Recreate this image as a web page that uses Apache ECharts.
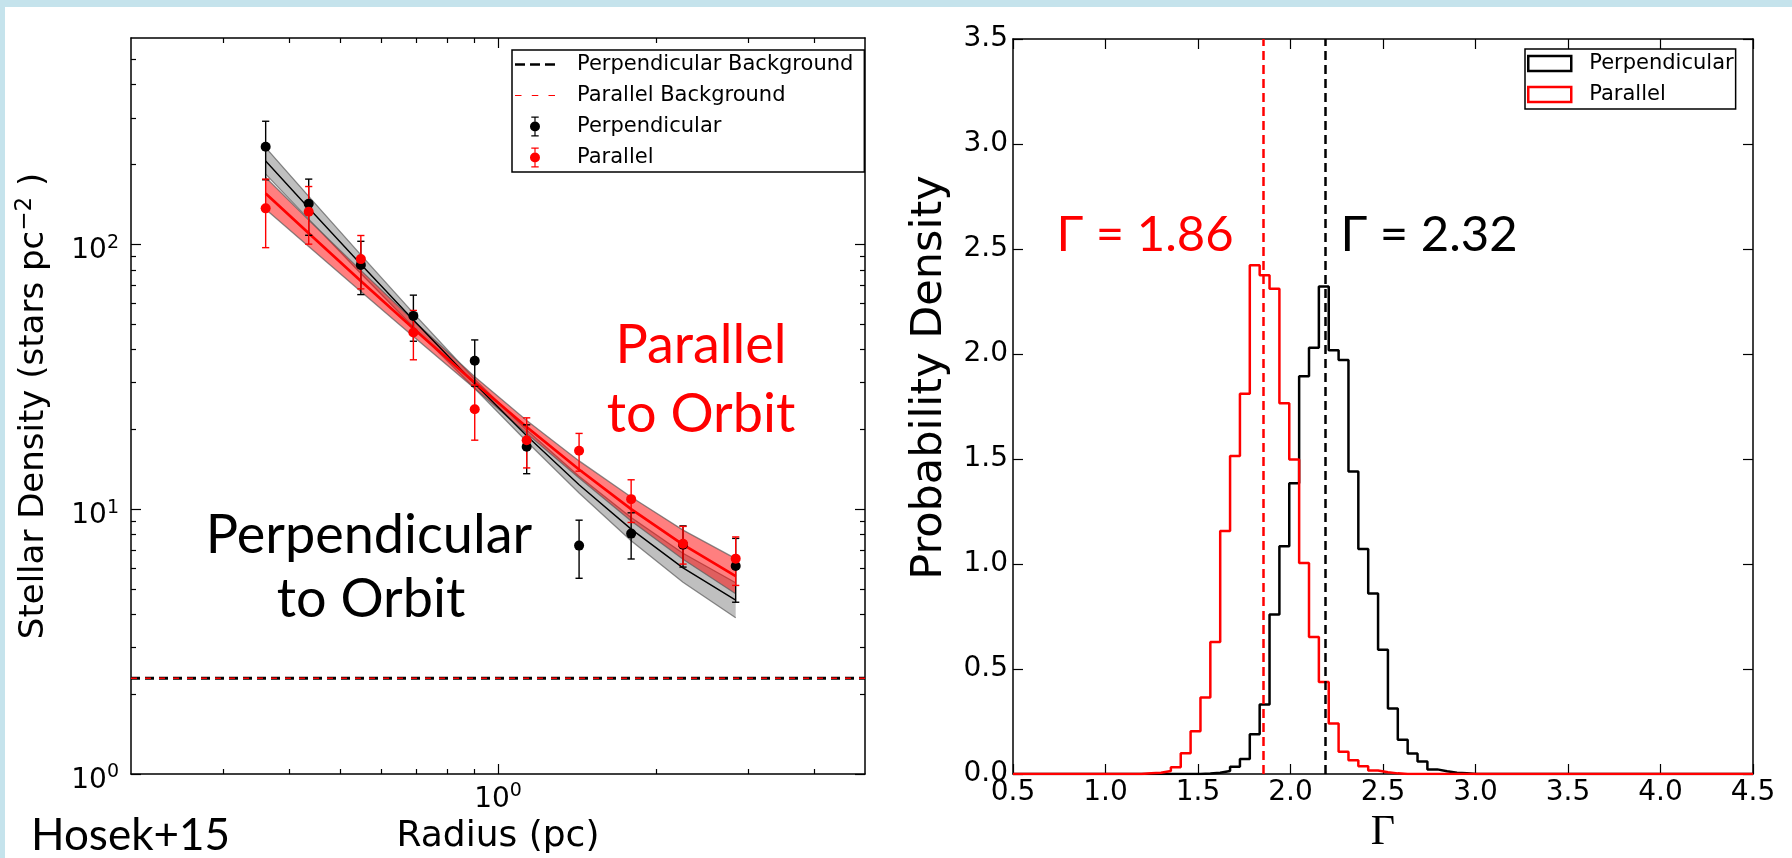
<!DOCTYPE html>
<html>
<head>
<meta charset="utf-8">
<script src="https://cdn.jsdelivr.net/npm/echarts@6.0.0/dist/echarts.min.js"></script>
<style>
  html, body { margin: 0; padding: 0; background: #c5e3ec; overflow: hidden; }
  #paper { position: absolute; left: 5px; top: 7px; right: 0; bottom: 0; background: #fff; }
  #chart { position: absolute; left: 0; top: 0; width: 1792px; height: 858px; }
</style>
</head>
<body>
<div id="paper"></div>
<div id="chart"></div>
<script>
// ---- left panel: radial profiles (pc, stars pc^-2) ----
var radius       = [0.361, 0.436, 0.548, 0.690, 0.903, 1.134, 1.427, 1.793, 2.251, 2.836];
var perpDensity  = [233, 142, 83.5, 53.6, 36.3, 17.2, 7.28, 8.08, 7.34, 6.1];
var perpError    = [58, 34, 19, 10.6, 7.2, 3.6, 1.8, 1.6, 1.3, 1.65];
var parDensity   = [136.5, 132.5, 87.8, 46.4, 23.8, 18.2, 16.6, 10.9, 7.4, 6.5];
var parError     = [39.5, 32.5, 20, 9.8, 5.6, 3.9, 2.7, 2.0, 1.2, 1.35];
var perpModel    = [206, 137, 84, 51.7, 29.7, 18.9, 12.35, 8.4, 6.0, 4.53];
var perpModelLo  = [183.8, 124.3, 77.5, 48.7, 28.5, 18.0, 11.5, 7.59, 5.29, 3.89];
var perpModelHi  = [231.4, 151.5, 91.1, 54.9, 30.9, 19.9, 13.3, 9.3, 6.81, 5.27];
var parModel     = [155.4, 110.0, 72.6, 48.05, 30.0, 20.4, 14.1, 10.0, 7.34, 5.58];
var parModelLo   = [135.4, 98.0, 66.2, 44.8, 28.5, 19.3, 13.1, 9.02, 6.47, 4.79];
var parModelHi   = [178.4, 123.4, 79.6, 51.5, 31.6, 21.6, 15.2, 11.1, 8.33, 6.5];
var perpBackground = 2.3;
var parBackground  = 2.3;
var radiusRange  = [0.2, 5];
var densityRange = [1, 600];
var radiusMajorTicks  = [1];
var radiusMinorTicks  = [0.3, 0.4, 0.5, 0.6, 0.7, 0.8, 0.9, 2, 3, 4];
var densityMajorTicks = [1, 10, 100];
var densityMinorTicks = [2, 3, 4, 5, 6, 7, 8, 9, 20, 30, 40, 50, 60, 70, 80, 90, 200, 300, 400, 500];

// ---- right panel: posterior of Gamma ----
var gammaBinStart = 0.5;
var gammaBinWidth = 4 / 75;
var perpHist = [
  0, 0, 0, 0, 0, 0, 0, 0, 0, 0,
  0, 0, 0, 0, 0, 0, 0, 0, 0, 0.002,
  0.006, 0.014, 0.035, 0.071, 0.189, 0.331, 0.76, 1.085, 1.385, 1.894,
  2.03, 2.322, 2.018, 1.971, 1.44, 1.071, 0.86, 0.592, 0.312, 0.163,
  0.098, 0.06, 0.022, 0.013, 0.006, 0.003, 0, 0, 0, 0,
  0, 0, 0, 0, 0, 0, 0, 0, 0, 0,
  0, 0, 0, 0, 0, 0, 0, 0, 0, 0,
  0, 0, 0, 0, 0
];
var parHist = [
  0, 0, 0, 0, 0, 0, 0, 0, 0, 0,
  0, 0, 0, 0.003, 0.006, 0.014, 0.032, 0.099, 0.204, 0.364,
  0.628, 1.157, 1.514, 1.811, 2.423, 2.375, 2.311, 1.766, 1.498, 1.005,
  0.652, 0.438, 0.24, 0.106, 0.065, 0.037, 0.017, 0.008, 0.003, 0,
  0, 0, 0, 0, 0, 0, 0, 0, 0, 0,
  0, 0, 0, 0, 0, 0, 0, 0, 0, 0,
  0, 0, 0, 0, 0, 0, 0, 0, 0, 0,
  0, 0, 0, 0, 0
];
var perpGammaLine = 2.187;
var parGammaLine  = 1.855;

var lg = Math.log10;
var AX = '#000';
var TICKFONT = 'DejaVu Sans';

function stepPoints(hist) {
  var pts = hist.map(function (h, k) { return [gammaBinStart + k * gammaBinWidth, h]; });
  pts.push([gammaBinStart + hist.length * gammaBinWidth, hist[hist.length - 1]]);
  return pts;
}

function powerLabel(v) { return '{b|10}{s|' + Math.round(v) + '}'; }
var powerRich = {
  b: { fontFamily: TICKFONT, fontSize: 28, color: '#000', verticalAlign: 'bottom' },
  s: { fontFamily: TICKFONT, fontSize: 19, color: '#000', verticalAlign: 'bottom', padding: [0, 0, 13, 0] }
};

// one axis of the log panel; major ones carry the line and labels
function logAxis(pos, range, ticks, len, labels, grid) {
  var side = pos === 'left' || pos === 'right';
  return {
    type: 'value', gridIndex: grid, position: pos,
    min: lg(range[0]), max: lg(range[1]),
    splitLine: { show: false },
    axisLine: { show: len > 6, onZero: false, lineStyle: { color: AX, width: 1.5 } },
    axisTick: { show: true, inside: true, length: len, customValues: ticks.map(lg),
                lineStyle: { color: AX, width: 1.2 } },
    axisLabel: labels ? { show: true, customValues: labels.map(lg), formatter: powerLabel,
                          rich: powerRich, margin: side ? 12 : 8,
                          padding: side ? [10, 0, 0, 0] : 0 } : { show: false }
  };
}

function linAxis(pos, min, max, labels, extra) {
  var a = {
    type: 'value', gridIndex: 1, position: pos, min: min, max: max, interval: 0.5,
    splitLine: { show: false },
    axisLine: { show: true, onZero: false, lineStyle: { color: AX, width: 1.5 } },
    axisTick: { show: true, inside: true, length: 10, lineStyle: { color: AX, width: 1.2 } },
    axisLabel: labels ? { show: true, margin: 5, fontFamily: TICKFONT, fontSize: 28, color: '#000',
                          formatter: function (v) { return v.toFixed(1); } } : { show: false }
  };
  for (var k in extra) a[k] = extra[k];
  return a;
}

function errorBars(name, dens, err, color) {
  return {
    type: 'custom', name: name, xAxisIndex: 0, yAxisIndex: 0, z: 6, silent: true,
    data: radius.map(function (r, i) { return [lg(r), lg(dens[i] - err[i]), lg(dens[i] + err[i])]; }),
    encode: { x: 0, y: [1, 2] },
    renderItem: function (params, api) {
      var lo = api.coord([api.value(0), api.value(1)]);
      var hi = api.coord([api.value(0), api.value(2)]);
      var c = 3.6, st = { stroke: color, lineWidth: 1.4 };
      return { type: 'group', children: [
        { type: 'line', shape: { x1: lo[0], y1: lo[1], x2: hi[0], y2: hi[1] }, style: st },
        { type: 'line', shape: { x1: lo[0] - c, y1: lo[1], x2: lo[0] + c, y2: lo[1] }, style: st },
        { type: 'line', shape: { x1: hi[0] - c, y1: hi[1], x2: hi[0] + c, y2: hi[1] }, style: st }
      ] };
    }
  };
}

function band(name, lo, hi, fill, z) {
  return {
    type: 'custom', name: name, xAxisIndex: 0, yAxisIndex: 0, z: z, silent: true,
    data: radius.map(function (r, i) { return [lg(r), lg(lo[i]), lg(hi[i])]; }),
    encode: { x: 0, y: [1, 2] },
    renderItem: function (params, api) {
      if (params.dataIndex !== 0) return null;
      var top = [], bot = [];
      for (var i = 0; i < radius.length; i++) {
        top.push(api.coord([lg(radius[i]), lg(hi[i])]));
        bot.push(api.coord([lg(radius[i]), lg(lo[i])]));
      }
      var edge = { stroke: 'rgba(90,90,90,0.7)', lineWidth: 1.3, fill: null };
      return { type: 'group', children: [
        { type: 'polygon', shape: { points: top.concat(bot.slice().reverse()) }, style: { fill: fill } },
        { type: 'polyline', shape: { points: top }, style: edge },
        { type: 'polyline', shape: { points: bot }, style: edge }
      ] };
    }
  };
}

function modelLine(name, model, color, width, z) {
  return {
    type: 'line', name: name, xAxisIndex: 0, yAxisIndex: 0, z: z, silent: true,
    showSymbol: false, symbol: 'none',
    data: radius.map(function (r, i) { return [lg(r), lg(model[i])]; }),
    lineStyle: { color: color, width: width }
  };
}

function bgLine(name, level, color, width, dash) {
  return {
    type: 'line', name: name, xAxisIndex: 0, yAxisIndex: 0, z: 2, silent: true,
    symbol: 'none', color: color,
    data: [[lg(radiusRange[0]), lg(level)], [lg(radiusRange[1]), lg(level)]],
    lineStyle: { color: color, width: width, type: dash }
  };
}

var frame = 'M0,0h0.01M0,20h0.01M40,0h0.01M40,20h0.01';
var iconDashThick = 'path://' + frame + 'M0,8.7h10v2.6h-10zM15,8.7h10v2.6h-10zM30,8.7h10v2.6h-10z';
var iconDashThin  = 'path://' + frame + 'M0,9.4h6.5v1.2h-6.5zM16.8,9.4h6.5v1.2h-6.5zM33.5,9.4h6.5v1.2h-6.5z';
var iconErrBar    = 'path://' + frame + 'M19.4,0h1.2v20h-1.2zM16.3,0h7.4v1.2h-7.4zM16.3,18.8h7.4v1.2h-7.4zM20,5a5,5 0 1,1 -0.01,0z';

var chart = echarts.init(document.getElementById('chart'), null, { renderer: 'canvas' });

function note(x, y, text, color, size, align) {
  return { type: 'text', x: x, y: y, z: 20, style: {
    text: text, fill: color, font: size + 'px Lato',
    textAlign: align || 'center', textVerticalAlign: 'middle',
    align: align || 'center', verticalAlign: 'middle' } };
}

var option = {
  animation: false,
  grid: [
    { left: 131, top: 38, width: 734, height: 736, outerBoundsMode: 'none', containLabel: false },
    { left: 1013, top: 39, width: 740, height: 735, outerBoundsMode: 'none', containLabel: false }
  ],
  xAxis: [
    (function () {
      var a = logAxis('bottom', radiusRange, radiusMajorTicks, 10, radiusMajorTicks, 0);
      a.name = 'Radius (pc)'; a.nameLocation = 'middle'; a.nameGap = 43;
      a.nameTextStyle = { fontFamily: TICKFONT, fontSize: 36, color: '#000' };
      return a;
    })(),
    logAxis('bottom', radiusRange, radiusMinorTicks, 5, null, 0),
    logAxis('top', radiusRange, radiusMajorTicks, 10, null, 0),
    logAxis('top', radiusRange, radiusMinorTicks, 5, null, 0),
    linAxis('bottom', 0.5, 4.5, true, {
      name: 'Γ', nameLocation: 'middle', nameGap: 38,
      nameTextStyle: { fontFamily: 'Liberation Serif', fontSize: 42, color: '#000' }
    }),
    linAxis('top', 0.5, 4.5, false, {})
  ],
  yAxis: [
    (function () {
      var a = logAxis('left', densityRange, densityMajorTicks, 10, densityMajorTicks, 0);
      a.name = '{n|Stellar Density (stars pc}{s|−2}{n| )}';
      a.nameLocation = 'middle'; a.nameGap = 80;
      a.nameTextStyle = { fontFamily: TICKFONT, fontSize: 34, color: '#000', rich: {
        n: { fontFamily: TICKFONT, fontSize: 34, color: '#000', verticalAlign: 'bottom' },
        s: { fontFamily: TICKFONT, fontSize: 23, color: '#000', verticalAlign: 'bottom', padding: [0, 0, 14, 0] }
      } };
      return a;
    })(),
    logAxis('left', densityRange, densityMinorTicks, 5, null, 0),
    logAxis('right', densityRange, densityMajorTicks, 10, null, 0),
    logAxis('right', densityRange, densityMinorTicks, 5, null, 0),
    linAxis('left', 0, 3.5, true, {
      name: 'Probability Density', nameLocation: 'middle', nameGap: 62,
      nameTextStyle: { fontFamily: TICKFONT, fontSize: 43, color: '#000', padding: [0, 0, 0, 58] }
    }),
    linAxis('right', 0, 3.5, false, {})
  ],
  legend: [
    {
      orient: 'vertical', left: 512, top: 50, selectedMode: false,
      itemWidth: 40, itemHeight: 20, itemGap: 10, padding: [4, 11, 4, 3],
      borderColor: '#000', borderWidth: 1.5, backgroundColor: '#fff',
      textStyle: { fontFamily: TICKFONT, fontSize: 21, color: '#000', padding: [0, 0, 0, 17] },
      data: [
        { name: 'Perpendicular Background', icon: iconDashThick, itemStyle: { color: '#000', borderWidth: 0 } },
        { name: 'Parallel Background', icon: iconDashThin, itemStyle: { color: '#ff0000', borderWidth: 0 } },
        { name: 'Perpendicular', icon: iconErrBar, itemStyle: { color: '#000', borderWidth: 0, opacity: 1 } },
        { name: 'Parallel', icon: iconErrBar, itemStyle: { color: '#ff0000', borderWidth: 0, opacity: 1 } }
      ]
    },
    {
      orient: 'vertical', left: 1525, top: 49, selectedMode: false,
      itemWidth: 43, itemHeight: 15, itemGap: 10, padding: [4, 2, 4, 2],
      borderColor: '#000', borderWidth: 1.5, backgroundColor: '#fff',
      textStyle: { fontFamily: TICKFONT, fontSize: 21, color: '#000', padding: [0, 0, 0, 13] },
      data: [
        { name: 'Perpendicular', icon: 'rect', itemStyle: { color: 'rgba(0,0,0,0)', borderColor: '#000', borderWidth: 2.5, opacity: 1 } },
        { name: 'Parallel', icon: 'rect', itemStyle: { color: 'rgba(0,0,0,0)', borderColor: '#ff0000', borderWidth: 2.5, opacity: 1 } }
      ]
    }
  ],
  series: [
    bgLine('Perpendicular Background', perpBackground, '#000', 3, [9, 5]),
    bgLine('Parallel Background', parBackground, '#ff0000', 1.5, [6, 8]),
    band('perp band', perpModelLo, perpModelHi, 'rgba(0,0,0,0.25)', 3),
    modelLine('perp model', perpModel, '#000', 1.4, 4),
    band('par band', parModelLo, parModelHi, 'rgba(255,0,0,0.5)', 4),
    modelLine('par model', parModel, '#ff0000', 2.7, 5),
    errorBars('perp err', perpDensity, perpError, '#000'),
    {
      type: 'scatter', name: 'Perpendicular', xAxisIndex: 0, yAxisIndex: 0, z: 7, silent: true,
      symbolSize: 10, itemStyle: { color: '#000', opacity: 1 },
      data: radius.map(function (r, i) { return [lg(r), lg(perpDensity[i])]; })
    },
    errorBars('par err', parDensity, parError, '#ff0000'),
    {
      type: 'scatter', name: 'Parallel', xAxisIndex: 0, yAxisIndex: 0, z: 8, silent: true,
      symbolSize: 10, itemStyle: { color: '#ff0000', opacity: 1 },
      data: radius.map(function (r, i) { return [lg(r), lg(parDensity[i])]; })
    },
    {
      type: 'line', name: 'Perpendicular', xAxisIndex: 4, yAxisIndex: 4, z: 3, silent: true,
      step: 'end', symbol: 'none', data: stepPoints(perpHist),
      lineStyle: { color: '#000', width: 2.5 },
      markLine: { silent: true, symbol: 'none', label: { show: false },
        lineStyle: { color: '#000', width: 2.5, type: [9, 5] }, data: [{ xAxis: perpGammaLine }] }
    },
    {
      type: 'line', name: 'Parallel', xAxisIndex: 4, yAxisIndex: 4, z: 4, silent: true,
      step: 'end', symbol: 'none', data: stepPoints(parHist),
      lineStyle: { color: '#ff0000', width: 2.5 },
      markLine: { silent: true, symbol: 'none', label: { show: false },
        lineStyle: { color: '#ff0000', width: 2.5, type: [9, 5] }, data: [{ xAxis: parGammaLine }] }
    }
  ],
  graphic: [
    note(369, 536, 'Perpendicular', '#000', 54),
    note(371, 600, 'to Orbit', '#000', 54),
    note(701, 346, 'Parallel', '#ff0000', 54),
    note(701, 415, 'to Orbit', '#ff0000', 54),
    note(1145, 235, 'Γ = 1.86', '#ff0000', 49),
    note(1429, 235, 'Γ = 2.32', '#000', 49),
    note(31, 836, 'Hosek+15', '#000', 44, 'left')
  ]
};

chart.setOption(option);
</script>
</body>
</html>
